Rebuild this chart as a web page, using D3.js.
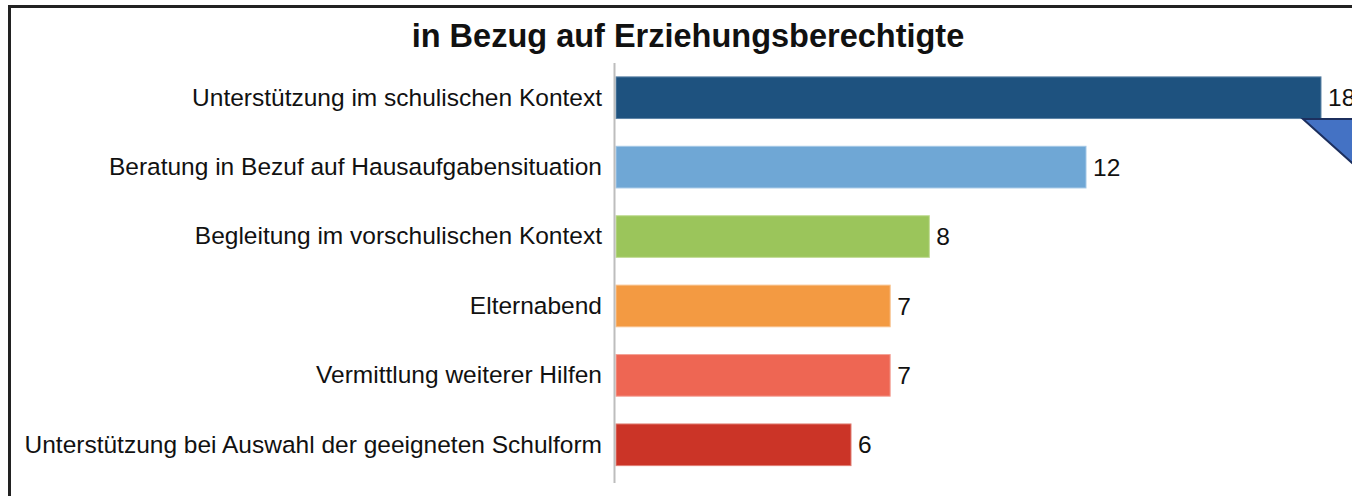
<!DOCTYPE html>
<html><head><meta charset="utf-8">
<script src="https://cdn.jsdelivr.net/npm/d3@7"></script>
<style>html,body{margin:0;padding:0;background:#fff;overflow:hidden}</style>
</head><body>
<svg id="c" width="1352" height="496"></svg>
<script>
const title = "in Bezug auf Erziehungsberechtigte";
const categories = [
  "Unterstützung im schulischen Kontext",
  "Beratung in Bezuf auf Hausaufgabensituation",
  "Begleitung im vorschulischen Kontext",
  "Elternabend",
  "Vermittlung weiterer Hilfen",
  "Unterstützung bei Auswahl der geeigneten Schulform"
];
const values = [18, 12, 8, 7, 7, 6];
const colors = ["#1e527f", "#6fa7d5", "#9bc55b", "#f39a42", "#ee6653", "#cb3427"];
const strokes = ["#5d84a6", "#a3c7e6", "#c1dc95", "#f8c08a", "#f4a196", "#e07d73"];

const svg = d3.select("#c");
const font = "'Liberation Sans', Arial, Helvetica, sans-serif";

// frame
svg.append("path").attr("d", "M9.5,497 L9.5,6.5 L1360,6.5")
  .attr("fill", "none").attr("stroke", "#222").attr("stroke-width", 3);

svg.append("text").attr("x", 688).attr("y", 47).attr("text-anchor", "middle")
  .attr("font-family", font).attr("font-weight", "bold").attr("font-size", 32.5)
  .attr("fill", "#111").text(title);

const x = d3.scaleLinear().domain([0, 18]).range([616, 1321]);
const y = d3.scaleBand().domain(categories).range([63, 479.5]).paddingInner(0.4).paddingOuter(0.2);

const g = svg.append("g");
g.selectAll("rect.bar").data(values).join("rect").attr("class", "bar")
  .attr("x", x(0)).attr("y", (d, i) => y(categories[i]))
  .attr("width", d => x(d) - x(0)).attr("height", y.bandwidth())
  .attr("fill", (d, i) => colors[i]).attr("stroke", (d, i) => strokes[i]).attr("stroke-width", 1);

const yAxis = d3.axisLeft(y).tickSize(0).tickPadding(12);
const ag = svg.append("g").attr("transform", `translate(${x(0) - 2},0)`).call(yAxis);
ag.select(".domain").remove();
ag.selectAll("text").attr("font-family", font).attr("font-size", 24.5).attr("fill", "#111");

svg.append("line").attr("x1", 614.5).attr("x2", 614.5).attr("y1", 63).attr("y2", 483)
  .attr("stroke", "#bdbdbd").attr("stroke-width", 2);

g.selectAll("text.val").data(values).join("text").attr("class", "val")
  .attr("x", d => x(d) + 7).attr("y", (d, i) => y(categories[i]) + y.bandwidth() / 2)
  .attr("dy", "0.35em").attr("font-family", font).attr("font-size", 24.5).attr("fill", "#111")
  .text(d => d);

// callout pointer
svg.append("path").attr("d", "M1303,119 L1360,119 L1360,170 Z")
  .attr("fill", "#4472c4").attr("stroke", "#1c2f5e").attr("stroke-width", 2);
</script>
</body></html>
